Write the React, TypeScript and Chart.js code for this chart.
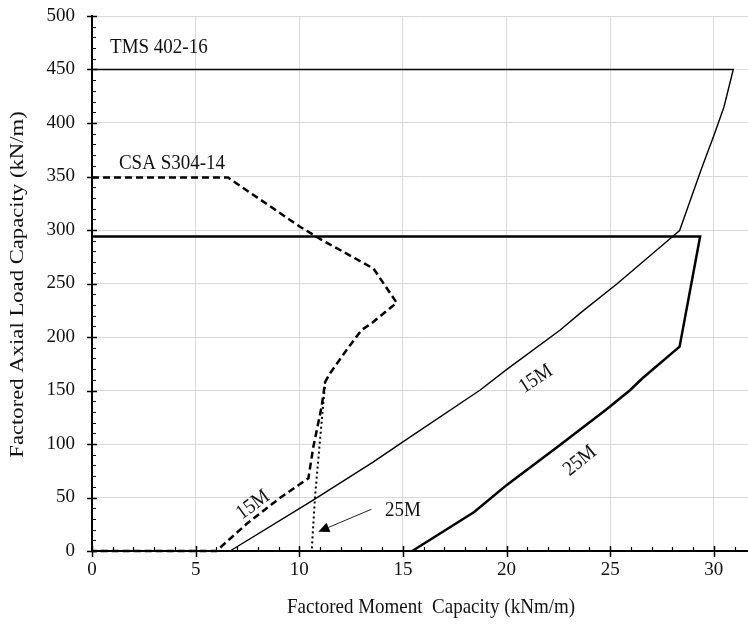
import React, { useEffect, useRef } from 'react';
import { Chart, registerables } from 'chart.js';

Chart.register(...registerables);

// ---------- data ----------
const xTickValues = [0, 5, 10, 15, 20, 25, 30];
const yTickValues = [0, 50, 100, 150, 200, 250, 300, 350, 400, 450, 500];

// TMS 402-16, 15M bars (thin solid)
const tms15M_x = [0, 30.94, 30.49, 30.0, 29.4, 28.35, 27.9, 25.35, 23.6, 22.59, 20.03, 18.73, 15.0, 13.56, 10.67, 6.66];
const tms15M_y = [450, 450, 415, 388, 357, 299.5, 292, 250, 223, 206.5, 170, 150.5, 102, 83, 47.6, 0];

// TMS 402-16, 25M bars (thick solid)
const tms25M_x = [0, 29.34, 28.35, 26.53, 25.97, 24.86, 22.5, 20.03, 18.44, 15.45];
const tms25M_y = [294, 294, 191, 161, 150.5, 133, 98, 62, 36.4, 0];

// CSA S304-14, 15M bars (dashed)
const csa15M_x = [0, 6.56, 10.04, 11.06, 13.58, 14.7, 13.5, 13.0, 12.29, 11.48, 11.25, 11.08, 10.68, 10.44, 9.1, 7.5, 6.0, 0];
const csa15M_y = [349, 349, 303, 291, 264, 232, 213, 206.5, 188, 166, 158, 135, 97.5, 68, 50, 26, 0, 0];

// CSA S304-14, 25M bars (dotted)
const csa25M_x = [11.25, 10.76, 10.6, 0];
const csa25M_y = [158, 50.8, 0, 0];

const xTitle = 'Factored Moment  Capacity (kNm/m)';
const yTitle = 'Factored Axial Load Capacity (kN/m)';

const FONT = '"Liberation Serif", "Times New Roman", serif';
const TEXT = '#111';

const pts = (xs: number[], ys: number[]) => xs.map((v, i) => ({ x: v, y: ys[i] }));

// annotation texts (anchored in data coordinates)
const labels = [
  { text: 'TMS 402-16', x: 0.87, y: 471, angle: 0, align: 'left' },
  { text: 'CSA S304-14', x: 1.3, y: 361.7, angle: 0, align: 'left' },
  { text: '15M', x: 7.77, y: 43, angle: -36, align: 'center' },
  { text: '15M', x: 21.42, y: 160.7, angle: -33, align: 'center' },
  { text: '25M', x: 23.54, y: 84.1, angle: -39, align: 'center' },
  { text: '25M', x: 15.0, y: 37.4, angle: 0, align: 'center' },
];
const arrowFrom = { x: 13.48, y: 39 };
const arrowTo = { x: 10.92, y: 18 };

const decor = {
  id: 'decor',
  afterDatasetsDraw(chart: any) {
    const { ctx, chartArea, scales } = chart;
    const xs = scales.x;
    const ys = scales.y;
    const x0 = xs.getPixelForValue(0);
    const y0 = ys.getPixelForValue(0);
    ctx.save();
    ctx.strokeStyle = '#000';
    // major ticks (crossing)
    ctx.lineWidth = 1.5;
    ctx.beginPath();
    for (const v of yTickValues) {
      const p = Math.round(ys.getPixelForValue(v)) + 0.5;
      ctx.moveTo(x0 - 5, p);
      ctx.lineTo(x0 + 5, p);
    }
    for (const v of xTickValues) {
      const p = Math.round(xs.getPixelForValue(v)) + 0.5;
      ctx.moveTo(p, y0 - 5);
      ctx.lineTo(p, y0 + 6);
    }
    ctx.stroke();
    // minor ticks
    ctx.lineWidth = 1.2;
    ctx.beginPath();
    for (let v = 10; v < 500; v += 10) {
      if (v % 50 === 0) continue;
      const p = Math.round(ys.getPixelForValue(v)) + 0.5;
      ctx.moveTo(x0, p);
      ctx.lineTo(x0 + 4, p);
    }
    for (let v = 1; v <= 31; v += 1) {
      if (v % 5 === 0) continue;
      const p = Math.round(xs.getPixelForValue(v)) + 0.5;
      ctx.moveTo(p, y0);
      ctx.lineTo(p, y0 - 4);
    }
    ctx.stroke();

    // annotations
    ctx.fillStyle = TEXT;
    ctx.font = `19px ${FONT}`;
    ctx.textBaseline = 'middle';
    for (const l of labels) {
      const px = xs.getPixelForValue(l.x);
      const py = ys.getPixelForValue(l.y);
      ctx.save();
      ctx.translate(px, py);
      ctx.rotate((l.angle * Math.PI) / 180);
      ctx.scale(1, 1.1);
      ctx.textAlign = l.align;
      ctx.fillText(l.text, 0, 0);
      ctx.restore();
    }

    // arrow
    const ax = xs.getPixelForValue(arrowFrom.x);
    const ay = ys.getPixelForValue(arrowFrom.y);
    const bx = xs.getPixelForValue(arrowTo.x);
    const by = ys.getPixelForValue(arrowTo.y);
    const ang = Math.atan2(by - ay, bx - ax);
    const hl = 11;
    const hw = 5;
    const baseX = bx - hl * Math.cos(ang);
    const baseY = by - hl * Math.sin(ang);
    ctx.strokeStyle = '#222';
    ctx.lineWidth = 1;
    ctx.beginPath();
    ctx.moveTo(ax, ay);
    ctx.lineTo(baseX, baseY);
    ctx.stroke();
    ctx.fillStyle = '#000';
    ctx.beginPath();
    ctx.moveTo(bx, by);
    ctx.lineTo(baseX + hw * Math.sin(ang), baseY - hw * Math.cos(ang));
    ctx.lineTo(baseX - hw * Math.sin(ang), baseY + hw * Math.cos(ang));
    ctx.closePath();
    ctx.fill();

    // axis titles
    ctx.fillStyle = TEXT;
    ctx.font = `19px ${FONT}`;
    ctx.textAlign = 'center';
    ctx.textBaseline = 'middle';
    ctx.save();
    ctx.translate(431, 608);
    ctx.scale(1, 1.1);
    ctx.fillText(xTitle, 0, 0);
    ctx.restore();
    ctx.save();
    ctx.translate(18, (chartArea.top + chartArea.bottom) / 2 + 1);
    ctx.rotate(-Math.PI / 2);
    ctx.scale(1.26, 1);
    ctx.font = `18px ${FONT}`;
    ctx.fillText(yTitle, 0, 0);
    ctx.restore();
    ctx.restore();
  },
};

export default function App() {
  const ref = useRef<HTMLCanvasElement | null>(null);
  useEffect(() => {
    if (!ref.current) return;
    const line = (data: any, width: number, dash: number[]) => ({
      data,
      borderColor: '#000',
      backgroundColor: '#000',
      borderWidth: width,
      borderDash: dash,
      showLine: true,
      pointRadius: 0,
      fill: false,
      tension: 0,
      clip: false,
    });
    const chart = new Chart(ref.current, {
      type: 'scatter',
      data: {
        datasets: [
          { label: 'TMS 15M', ...line(pts(tms15M_x, tms15M_y), 1.4, []) },
          { label: 'TMS 25M', ...line(pts(tms25M_x, tms25M_y), 2.5, []) },
          { label: 'CSA 25M', ...line(pts(csa25M_x, csa25M_y), 2, [2, 3]) },
          { label: 'CSA 15M', ...line(pts(csa15M_x, csa15M_y), 2.5, [7, 4]) },
        ],
      },
      options: {
        responsive: false,
        animation: false,
        devicePixelRatio: 1,
        layout: { padding: { left: 0, right: 0, top: 16, bottom: 0 } },
        plugins: { legend: { display: false }, tooltip: { enabled: false } },
        scales: {
          x: {
            type: 'linear',
            min: 0,
            max: 31.65,
            afterBuildTicks: (s: any) => {
              s.ticks = xTickValues.map((v) => ({ value: v }));
            },
            afterFit: (s: any) => {
              s.height = 73;
              s.paddingLeft = 0;
              s.paddingRight = 0;
              s.paddingTop = 0;
              s.paddingBottom = 0;
            },
            grid: { color: '#d9d9d9', lineWidth: 1, drawTicks: false },
            border: { color: '#000', width: 2 },
            ticks: { font: { family: FONT, size: 19 }, color: TEXT, padding: 8, maxRotation: 0 },
          },
          y: {
            type: 'linear',
            min: 0,
            max: 500,
            afterBuildTicks: (s: any) => {
              s.ticks = yTickValues.map((v) => ({ value: v }));
            },
            afterFit: (s: any) => {
              s.width = 92;
              s.paddingLeft = 0;
              s.paddingRight = 0;
              s.paddingTop = 0;
              s.paddingBottom = 0;
            },
            grid: { color: '#d9d9d9', lineWidth: 1, drawTicks: false },
            border: { color: '#000', width: 2 },
            ticks: { font: { family: FONT, size: 19 }, color: TEXT, padding: 17 },
          },
        },
      },
      plugins: [decor],
    });
    return () => chart.destroy();
  }, []);
  return (
    <div style={{ position: 'fixed', left: 0, top: 0, width: 748, height: 624, background: '#fff' }}>
      <canvas ref={ref} width={748} height={624} />
    </div>
  );
}
